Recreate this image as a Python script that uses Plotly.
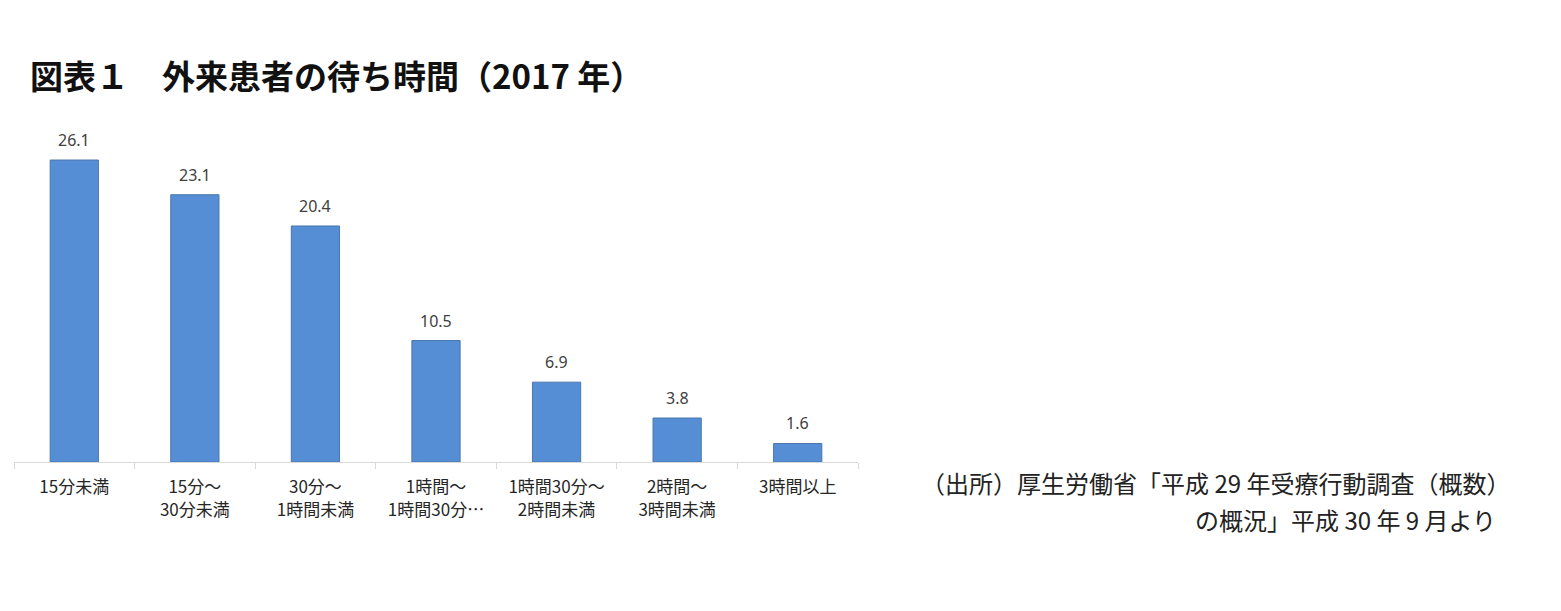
import plotly.graph_objects as go

# 外来患者の待ち時間（2017年）, 受療行動調査より
categories = [
    "15分未満",
    "15分～<br>30分未満",
    "30分～<br>1時間未満",
    "1時間～<br>1時間30分…",
    "1時間30分～<br>2時間未満",
    "2時間～<br>3時間未満",
    "3時間以上",
]
shares = [26.1, 23.1, 20.4, 10.5, 6.9, 3.8, 1.6]

W, H = 1561, 611
off = 8  # page body margin shifts the figure
left, right_px, top, bottom_px = 14 - off, 858 - off, 118 - off, 462 - off

fig = go.Figure()
fig.add_trace(go.Bar(
    x=categories,
    y=shares,
    width=0.4,
    marker=dict(color="#558ED5", line=dict(color="#4A76AE", width=1)),
    hoverinfo="x+y",
))

# data labels above each bar
for cat, val in zip(categories, shares):
    fig.add_annotation(
        x=cat, y=val, text=f"{val:.1f}", showarrow=False,
        yanchor="bottom", yshift=7,
        font=dict(family="Noto Sans, Noto Sans CJK JP", size=16, color="#404040"),
    )

plot_h = bottom_px - top
fig.update_layout(
    width=W,
    height=H,
    margin=dict(l=left, r=W - right_px, t=top, b=H - bottom_px, pad=0),
    paper_bgcolor="white",
    plot_bgcolor="white",
    showlegend=False,
    title=dict(
        text="<b>図表１　外来患者の待ち時間（2017 年）</b>",
        x=(30 - off) / W, xanchor="left", xref="container",
        y=1 - (77 - off) / H, yanchor="middle", yref="container",
        font=dict(family="Noto Sans CJK JP", size=33, color="#111111"),
    ),
    xaxis=dict(
        showline=True, linecolor="#D9D9D9", linewidth=1,
        ticks="outside", tickson="boundaries", ticklen=6, tickcolor="#D9D9D9",
        ticklabelstandoff=10,
        tickfont=dict(family="Noto Sans CJK JP", size=17, color="#262626"),
        showgrid=False,
    ),
    yaxis=dict(
        range=[0, plot_h / 11.57],
        visible=False,
        showgrid=False,
    ),
)

# source note, two right-aligned lines
src_font = dict(family="Noto Sans CJK JP", size=24, color="#222222")
plot_w = right_px - left
fig.add_annotation(
    text="（出所）厚生労働省「平成 29 年受療行動調査（概数）",
    xref="paper", yref="paper",
    x=(1512 - off - left) / plot_w, y=(bottom_px - (482 - off)) / plot_h,
    xanchor="right", yanchor="middle", showarrow=False, font=src_font,
)
fig.add_annotation(
    text="の概況」平成 30 年 9 月より",
    xref="paper", yref="paper",
    x=(1498 - off - left) / plot_w, y=(bottom_px - (519 - off)) / plot_h,
    xanchor="right", yanchor="middle", showarrow=False, font=src_font,
)

fig.write_html("out.html")
